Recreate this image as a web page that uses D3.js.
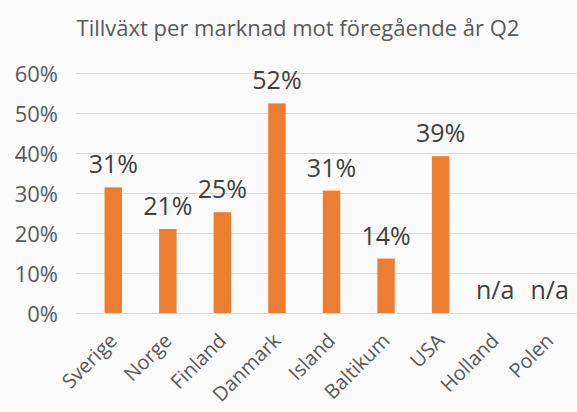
<!DOCTYPE html>
<html>
<head>
<meta charset="utf-8">
<script src="https://cdn.jsdelivr.net/npm/d3@7"></script>
<style>
  body { margin: 0; background: #fafafa; }
  svg { display: block; font-family: "Open Sans", "Noto Sans", sans-serif; }
</style>
</head>
<body>
<div class="chart"></div>
<script>
// markets and growth vs previous year (null = n/a)
var markets = ['Sverige', 'Norge', 'Finland', 'Danmark', 'Island', 'Baltikum', 'USA', 'Holland', 'Polen'];
var growth = [31.4, 21, 25.2, 52.4, 30.6, 13.6, 39.2, null, null];
var yTicks = [0, 10, 20, 30, 40, 50, 60];
var title = 'Tillväxt per marknad mot föregående år Q2';

var width = 577;
var height = 412;
var textColour = '#595959';

var svg = d3.select('.chart')
  .append('svg')
  .attr('width', width)
  .attr('height', height);

svg.append('rect')
  .attr('width', width)
  .attr('height', height)
  .attr('fill', '#fafafa');

// scales
var x = d3.scaleBand()
  .domain(markets)
  .range([86, 577]);

var y = d3.scaleLinear()
  .domain([0, 60])
  .range([313, 73]);

var barWidth = x.bandwidth() * 0.32;

// title
svg.append('text')
  .attr('x', 298)
  .attr('y', 36)
  .attr('text-anchor', 'middle')
  .style('font-size', '22px')
  .attr('fill', textColour)
  .text(title);

// gridlines
svg.append('g')
  .selectAll('line')
  .data(yTicks)
  .enter()
  .append('line')
    .attr('x1', 76)
    .attr('x2', width)
    .attr('y1', d => y(d) + 0.5)
    .attr('y2', d => y(d) + 0.5)
    .attr('stroke', '#d9d9d9');

// y axis labels
var yAxis = svg.append('g')
  .attr('transform', 'translate(58,0)')
  .call(d3.axisLeft(y).tickValues(yTicks).tickSize(0).tickPadding(0).tickFormat(d => d + '%'));
yAxis.select('.domain').remove();
yAxis.selectAll('text')
  .attr('fill', textColour)
  .attr('dy', '0.38em')
  .style('font-size', '22px')
  .style('font-family', '"Open Sans", sans-serif');

// bars
var rows = markets.map((m, i) => ({ market: m, value: growth[i] }));

svg.selectAll('.bar')
  .data(rows.filter(d => d.value !== null))
  .enter()
  .append('rect')
    .attr('class', 'bar')
    .attr('x', d => x(d.market) + (x.bandwidth() - barWidth) / 2)
    .attr('y', d => y(d.value))
    .attr('width', barWidth)
    .attr('height', d => y(0) - y(d.value))
    .attr('fill', '#ed7d31');

// value labels
svg.selectAll('.value')
  .data(rows)
  .enter()
  .append('text')
    .attr('class', 'value')
    .attr('x', d => x(d.market) + x.bandwidth() / 2)
    .attr('y', d => d.value === null ? y(0) - 14 : y(d.value) - 14)
    .attr('text-anchor', 'middle')
    .attr('fill', '#404040')
    .style('font-size', '25px')
    .text(d => d.value === null ? 'n/a' : Math.round(d.value) + '%');

// category labels, rotated
svg.selectAll('.cat')
  .data(markets)
  .enter()
  .append('text')
    .attr('class', 'cat')
    .attr('text-anchor', 'end')
    .attr('transform', d => 'translate(' + (x(d) + x.bandwidth() / 2 + 5) + ',342) rotate(-45)')
    .attr('fill', textColour)
    .style('font-size', '20px')
    .text(d => d);
</script>
</body>
</html>
